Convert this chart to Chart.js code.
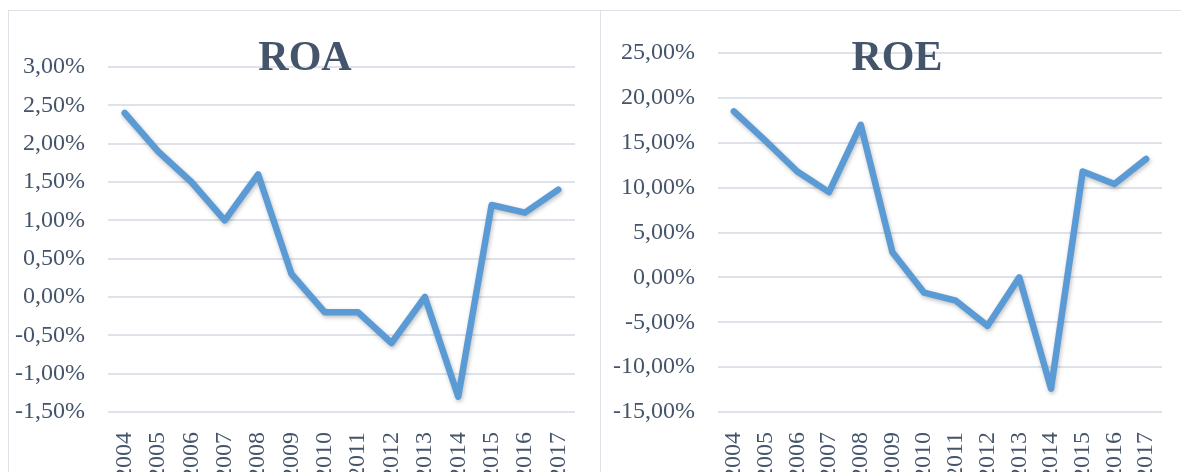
<!DOCTYPE html>
<html>
<head>
<meta charset="utf-8">
<script src="https://cdn.jsdelivr.net/npm/chart.js@4/dist/chart.umd.min.js"></script>
<style>
  html, body { margin: 0; padding: 0; background: #fff; overflow: hidden; width: 1181px; height: 472px; }
  .box { position: absolute; top: 10px; height: 500px; border: 1px solid #dde1e8; background: #fff; }
  #boxL { left: 8px; width: 591px; }
  #boxR { left: 600px; width: 620px; border-right: none; }
</style>
</head>
<body>
<div class="box" id="boxL"><canvas id="roa" width="591" height="500"></canvas></div>
<div class="box" id="boxR"><canvas id="roe" width="620" height="500"></canvas></div>
<script>
const years = ["2004", "2005", "2006", "2007", "2008", "2009", "2010", "2011", "2012", "2013", "2014", "2015", "2016", "2017"];
const roa = [2.4, 1.9, 1.5, 1.0, 1.6, 0.3, -0.2, -0.2, -0.6, 0.0, -1.3, 1.2, 1.1, 1.4];
const roe = [18.5, 15.2, 11.8, 9.5, 17.0, 2.8, -1.7, -2.6, -5.4, 0.0, -12.4, 11.8, 10.4, 13.2];

const serif = '"Liberation Serif", "Times New Roman", serif';
const textCol = '#44546a';

// title sits over the plot, like the original
const overTitle = {
  id: 'overTitle',
  afterDraw(chart, args, opts) {
    const ctx = chart.ctx;
    ctx.save();
    ctx.font = 'bold 42px ' + serif;
    ctx.fillStyle = textCol;
    ctx.textAlign = 'center';
    ctx.textBaseline = 'alphabetic';
    ctx.fillText(opts.text, opts.x, opts.y);
    ctx.restore();
  }
};

const lineShadow = {
  id: 'lineShadow',
  beforeDatasetDraw(chart) {
    const ctx = chart.ctx;
    ctx.save();
    ctx.shadowColor = 'rgba(0,0,0,0.25)';
    ctx.shadowBlur = 4;
    ctx.shadowOffsetX = 1;
    ctx.shadowOffsetY = 2;
  },
  afterDatasetDraw(chart) {
    chart.ctx.restore();
  }
};

function pct(v) {
  return v.toFixed(2).replace('.', ',') + '%';
}

function makeChart(id, title, values, min, max, step, padTop, yWidth, padRight) {
  const ctx = document.getElementById(id).getContext('2d');
  return new Chart(ctx, {
    type: 'line',
    data: {
      labels: years,
      datasets: [{
        data: values,
        borderColor: '#5b9bd5',
        borderWidth: 6.5,
        borderJoinStyle: 'round',
        borderCapStyle: 'round',
        pointRadius: 0,
        tension: 0,
        fill: false
      }]
    },
    options: {
      responsive: false,
      animation: false,
      layout: { padding: { top: padTop, right: padRight, left: 0, bottom: 0 } },
      plugins: {
        legend: { display: false },
        tooltip: { enabled: false },
        overTitle: { text: title, x: 296, y: 59 }
      },
      scales: {
        x: {
          offset: true,
          grid: { display: false },
          border: { display: false },
          ticks: {
            minRotation: 90, maxRotation: 90, autoSkip: false, padding: 12,
            color: textCol, font: { family: serif, size: 24 }
          },
          afterFit(s) { s.height = 99; }
        },
        y: {
          min: min, max: max,
          grid: { color: '#dfe3e9', lineWidth: 2, drawTicks: false },
          border: { display: false },
          ticks: {
            stepSize: step, padding: 23,
            color: textCol, font: { family: serif, size: 24 },
            callback: v => pct(v)
          },
          afterFit(s) { s.width = yWidth; }
        }
      }
    },
    plugins: [overTitle, lineShadow]
  });
}

makeChart('roa', 'ROA', roa, -1.5, 3, 0.5, 56, 99, 25);
makeChart('roe', 'ROE', roe, -15, 25, 5, 42, 117, 59);
</script>
</body>
</html>
